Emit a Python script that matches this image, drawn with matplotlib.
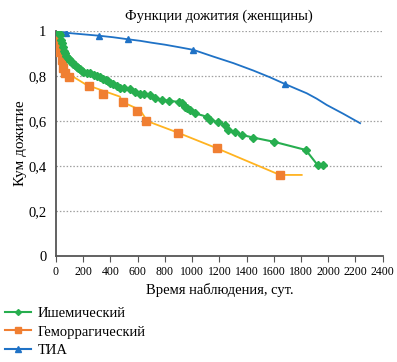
import matplotlib
matplotlib.use("Agg")
import matplotlib.pyplot as plt
from matplotlib.lines import Line2D

plt.rcParams['font.family'] = ['Liberation Serif', 'DejaVu Serif']

# Ишемический (line + diamond markers at every point)
isch_t = [0, 10, 20, 29, 36, 42, 50, 58, 66, 75, 85, 95, 103, 115, 125, 140,
          152, 165, 176, 190, 201, 225, 250, 280, 300, 323, 348, 365, 384, 400,
          421, 445, 470, 500, 544, 580, 617, 650, 691, 727, 780, 833, 900, 923,
          948, 965, 985, 1021, 1107, 1132, 1193, 1242, 1266, 1315, 1364, 1450,
          1604, 1835, 1923, 1965]
isch_s = [1.0, 1.0, 0.99, 0.98, 0.962, 0.945, 0.93, 0.912, 0.9, 0.89, 0.88,
          0.874, 0.867, 0.86, 0.854, 0.848, 0.841, 0.835, 0.83, 0.824, 0.819,
          0.815, 0.812, 0.806, 0.8, 0.795, 0.787, 0.781, 0.776, 0.77, 0.763,
          0.756, 0.748, 0.745, 0.741, 0.73, 0.719, 0.718, 0.716, 0.70, 0.694,
          0.689, 0.685, 0.679, 0.664, 0.657, 0.649, 0.634, 0.619, 0.604, 0.594,
          0.582, 0.56, 0.55, 0.538, 0.526, 0.507, 0.471, 0.403, 0.403]

# Геморрагический: line and markers read separately
hem_line_t = [0, 20, 50, 103, 225, 470, 482, 617, 654, 680, 895, 1180, 1645, 1805]
hem_line_s = [0.98, 0.90, 0.84, 0.805, 0.76, 0.708, 0.686, 0.649, 0.615, 0.597,
              0.548, 0.479, 0.36, 0.36]
hem_mark_t = [0, 5, 5, 17, 42, 54, 66, 98, 242, 343, 495, 597, 659, 895, 1180, 1645]
hem_mark_s = [0.975, 0.967, 0.938, 0.908, 0.871, 0.834, 0.812, 0.797, 0.757,
              0.72, 0.683, 0.644, 0.60, 0.548, 0.479, 0.36]

# ТИА
tia_t = [0, 71, 200, 314, 420, 529, 620, 700, 800, 911, 1009, 1156, 1303, 1450,
         1572, 1683, 1760, 1842, 1915, 1989, 2110, 2234]
tia_s = [1.0, 0.992, 0.985, 0.979, 0.972, 0.963, 0.956, 0.948, 0.939, 0.927,
         0.916, 0.886, 0.857, 0.824, 0.794, 0.764, 0.744, 0.723, 0.699, 0.671,
         0.632, 0.59]
tia_mark_t = [71, 314, 529, 1009, 1683]
tia_mark_s = [0.992, 0.979, 0.963, 0.916, 0.764]

x_ticks = list(range(0, 2401, 200))
y_ticks = [0, 0.2, 0.4, 0.6, 0.8, 1.0]
y_labels = ['0', '0,2', '0,4', '0,6', '0,8', '1']

GREEN = '#27AE4F'
ORANGE = '#F07F32'
GOLD = '#FFB320'
BLUE = '#1F72C6'

fig = plt.figure(figsize=(3.97, 3.62), dpi=100)
ax = fig.add_axes([0.141, 0.293, 0.823, 0.6215])

for y in y_ticks[1:]:
    ax.axhline(y, color='#A0A0A0', lw=0.9, ls=(0, (1.2, 1.5)), zorder=0)

ax.plot(tia_t, tia_s, color=BLUE, lw=1.3, zorder=2)
ax.plot(tia_mark_t, tia_mark_s, ls='none', marker='^', ms=5, color=BLUE, zorder=3)

ax.plot(hem_line_t, hem_line_s, color=GOLD, lw=1.3, zorder=2)
ax.plot(hem_mark_t, hem_mark_s, ls='none', marker='s', ms=5.5, color=ORANGE, zorder=3)

ax.plot(isch_t, isch_s, color=GREEN, lw=1.5, marker='D', ms=4.5, zorder=4)

ax.set_xlim(0, 2400)
ax.set_ylim(0, 1.0)
ax.set_xticks(x_ticks)
ax.set_xticklabels([str(t) for t in x_ticks], fontsize=8.5)
ax.set_yticks(y_ticks)
ax.set_yticklabels(y_labels, fontsize=10.5)
ax.tick_params(axis='y', length=0, pad=7)
ax.tick_params(axis='x', length=4, color='#555555', pad=3)
for s in ['top', 'right']:
    ax.spines[s].set_visible(False)
for s in ['left', 'bottom']:
    ax.spines[s].set_color('#555555')
    ax.spines[s].set_linewidth(1.3)

ax.set_title('Функции дожития (женщины)', fontsize=10.5, pad=8)
ax.set_xlabel('Время наблюдения, сут.', fontsize=10.5, labelpad=4)
ax.set_ylabel('Кум дожитие', fontsize=11, labelpad=1)

handles = [
    Line2D([], [], color=GREEN, marker='D', ms=3),
    Line2D([], [], color=ORANGE, marker='s', ms=4),
    Line2D([], [], color=BLUE, marker='^', ms=4),
]
labels = ['Ишемический', 'Геморрагический', 'ТИА']
fig.legend(handles, labels, loc='upper left', bbox_to_anchor=(-0.002, 0.168),
           frameon=False, fontsize=10.5, handlelength=1.8, handletextpad=0.45,
           labelspacing=0.35, borderaxespad=0)

fig.savefig('out.png', dpi=100)
